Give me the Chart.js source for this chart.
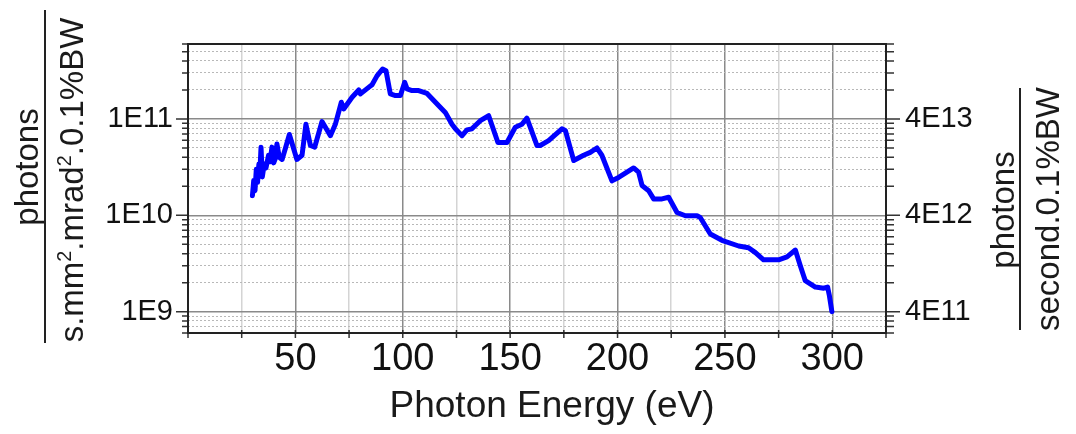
<!DOCTYPE html>
<html>
<head>
<meta charset="utf-8">
<script src="https://cdn.jsdelivr.net/npm/chart.js@4.4.1/dist/chart.umd.min.js"></script>
<style>
  body { margin: 0; background: #fff; }
  #wrap { position: relative; width: 1076px; height: 434px; font-family: 'Liberation Sans', Arial, sans-serif; color: #1a1a1a; }
  #wrap canvas { position: absolute; left: 0; top: 0; }
  .rot { position: absolute; transform: translate(-50%, -50%) rotate(-90deg); white-space: nowrap; font-size: 33px; line-height: 1; }
  .rot sup { font-size: 0.6em; vertical-align: 0.6em; line-height: 0; }
  .bar { position: absolute; width: 2px; background: #222; }
  #xtitle { position: absolute; left: 552px; top: 386px; transform: translateX(-50%); font-size: 37px; line-height: 1; white-space: nowrap; }
</style>
</head>
<body>
<div id="wrap">
  <canvas id="chart" width="1076" height="434"></canvas>
  <span class="rot" style="left:26px; top:167px;">photons</span>
  <div class="bar" style="left:44px; top:10px; height:333px;"></div>
  <span class="rot" style="left:71px; top:180px;">s.mm<sup>2</sup>.mrad<sup>2</sup>.0.1%BW</span>
  <span class="rot" style="left:1002px; top:210px;">photons</span>
  <div class="bar" style="left:1019px; top:88px; height:242px;"></div>
  <span class="rot" style="left:1047px; top:209px;">second.0.1%BW</span>
  <span id="xtitle">Photon Energy (eV)</span>
</div>
<script>
// photon energy (eV) and brightness
const energy = [30.0, 30.6, 31.2, 31.8, 32.4, 33.0, 33.4, 34.0, 34.6, 35.5, 36.3, 37.5, 38.2, 39.1, 39.9, 40.7, 41.4, 42.5, 43.8, 45.3, 47.2,
  50.7, 53.1, 54.9, 57.0, 59.0, 62.4, 66.3, 68.6, 71.4, 72.5, 76.4, 79.5, 80.3, 84.1, 85.7, 88.0, 90.6, 92.2, 94.2, 96.6, 98.9,
  100.9, 102.0, 104.3, 107.4, 111.3, 115.2, 119.8, 122.9, 124.5, 127.6, 129.9, 132.2, 136.1, 140.0, 144.3, 148.5, 152.4, 155.5,
  157.8, 162.5, 164.0, 167.9, 174.1, 175.7, 179.6, 184.2, 187.3, 190.4, 192.7, 197.4, 200.5, 207.5, 209.8, 211.4, 214.5, 216.8,
  220.7, 223.8, 227.7, 231.6, 237.0, 238.5, 243.2, 248.6, 256.4, 261.0, 264.2, 268.0, 275.0, 278.9, 282.8, 285.1, 286.6, 287.4,
  292.1, 296.0, 297.8, 298.6, 299.8];
const brightness = [1.6e10, 2.3e10, 1.8e10, 3.0e10, 2.2e10, 3.4e10, 2.6e10, 5.1e10, 2.5e10, 3.4e10, 3.1e10, 4.2e10, 3.6e10, 5.1e10, 3.5e10, 3.9e10, 5.5e10, 4.0e10, 3.8e10, 4.9e10, 6.9e10,
  3.8e10, 4.2e10, 8.8e10, 5.3e10, 5.1e10, 9.4e10, 6.7e10, 8.8e10, 1.49e11, 1.27e11, 1.68e11, 2.0e11, 1.82e11, 2.13e11, 2.27e11, 2.8e11, 3.3e11, 3.17e11, 1.82e11, 1.75e11, 1.75e11,
  2.4e11, 2.05e11, 1.97e11, 1.97e11, 1.84e11, 1.49e11, 1.17e11, 8.8e10, 7.9e10, 6.7e10, 7.7e10, 7.9e10, 9.6e10, 1.08e11, 5.7e10, 5.7e10, 8.2e10, 8.8e10,
  1.02e11, 5.3e10, 5.3e10, 5.95e10, 7.9e10, 7.6e10, 3.7e10, 4.2e10, 4.5e10, 5.0e10, 4.2e10, 2.28e10, 2.47e10, 3.1e10, 2.8e10, 2.04e10, 1.8e10, 1.48e10,
  1.48e10, 1.54e10, 1.07e10, 9.9e9, 9.9e9, 9.5e9, 6.4e9, 5.5e9, 4.8e9, 4.6e9, 4.1e9, 3.45e9, 3.45e9, 3.7e9, 4.36e9, 3.0e9, 2.37e9, 2.1e9,
  1.8e9, 1.75e9, 1.8e9, 1.48e9, 1.0e9];

const xMin = 0, xMax = 325, xStep = 25, xLabelStep = 50;
const yMin = 6e8, yMax = 6e11;
const rightFactor = 400;  // photons/second scale relative to brightness

// log ticks: 1..9 per decade, clipped to the axis range
function logTicks() {
  const out = [];
  for (let e = 8; e <= 11; e++) {
    for (let m = 1; m <= 9; m++) {
      const v = m * Math.pow(10, e);
      if (v >= yMin * 0.999 && v <= yMax * 1.001) out.push({ value: v });
    }
  }
  return out;
}
const isDecade = v => Math.abs(Math.log10(v) - Math.round(Math.log10(v))) < 1e-6;
const expLabel = v => {
  const l = Math.log10(v);
  const e = Math.floor(l + 1e-9);
  const m = Math.round(v / Math.pow(10, e));
  return m + 'E' + e;
};

const tickFont = { family: "'Liberation Sans', Arial, sans-serif", size: 29 };

// outward tick marks of two lengths and the frame round the plot
const axisMarks = {
  id: 'axisMarks',
  afterDraw(chart) {
    const { ctx, chartArea: a, scales } = chart;
    ctx.save();
    ctx.strokeStyle = '#333';
    ctx.lineWidth = 1.5;
    ctx.beginPath();
    scales.y.ticks.forEach(t => {
      const py = scales.y.getPixelForValue(t.value);
      const major = isDecade(t.value);
      ctx.moveTo(a.left - (major ? 12 : 6), py); ctx.lineTo(a.left, py);
      ctx.moveTo(a.right, py); ctx.lineTo(a.right + (major ? 14 : 8), py);
    });
    scales.x.ticks.forEach(t => {
      const px = scales.x.getPixelForValue(t.value);
      ctx.moveTo(px, a.bottom - 3); ctx.lineTo(px, a.bottom + 5);
    });
    ctx.stroke();
    ctx.lineWidth = 2;
    ctx.strokeStyle = '#222';
    ctx.strokeRect(a.left, a.top, a.right - a.left, a.bottom - a.top);
    ctx.restore();
  }
};

new Chart(document.getElementById('chart'), {
  type: 'line',
  data: {
    datasets: [{
      data: energy.map((e, i) => ({ x: e, y: brightness[i] })),
      borderColor: '#0000ff',
      borderWidth: 5,
      pointRadius: 0,
      tension: 0,
      borderJoinStyle: 'round',
      borderCapStyle: 'round',
      yAxisID: 'y'
    }]
  },
  options: {
    responsive: false,
    animation: false,
    devicePixelRatio: 1,
    layout: { padding: { top: 44, left: 0, right: 0, bottom: 0 } },
    plugins: { legend: { display: false }, tooltip: { enabled: false } },
    scales: {
      x: {
        type: 'linear',
        min: xMin, max: xMax,
        afterFit: s => { s.height = 101; },
        ticks: {
          stepSize: xStep, autoSkip: false, maxRotation: 0, padding: 4,
          color: '#111',
          font: { family: "'Liberation Sans', Arial, sans-serif", size: 38 },
          callback: v => (v > 0 && v % xLabelStep === 0 ? String(v) : '')
        },
        grid: {
          drawTicks: false,
          lineWidth: 1.5,
          color: c => (c.tick && c.tick.value % xLabelStep === 0 ? '#8a8a8a' : '#d4d4d4')
        },
        border: { display: false }
      },
      y: {
        type: 'logarithmic',
        position: 'left',
        min: yMin, max: yMax,
        afterBuildTicks: s => { s.ticks = logTicks(); },
        afterFit: s => { s.width = 188; },
        ticks: {
          autoSkip: false, padding: 15, color: '#111', font: tickFont,
          callback: v => (isDecade(v) ? expLabel(v) : '')
        },
        grid: {
          drawTicks: false,
          lineWidth: 1.5,
          color: c => (c.tick && isDecade(c.tick.value) ? '#8a8a8a' : 'rgba(0,0,0,0)')
        },
        border: { display: false }
      },
      y2: {
        type: 'logarithmic',
        position: 'right',
        min: yMin, max: yMax,
        afterBuildTicks: s => { s.ticks = logTicks(); },
        afterFit: s => { s.width = 190; },
        ticks: {
          autoSkip: false, padding: 19, color: '#111', font: tickFont,
          callback: v => (isDecade(v) ? expLabel(v * rightFactor) : '')
        },
        grid: {
          drawTicks: false,
          lineWidth: 1,
          color: c => (c.tick && !isDecade(c.tick.value) ? '#b8b8b8' : 'rgba(0,0,0,0)')
        },
        border: { display: false, dash: [2, 2] }
      }
    }
  },
  plugins: [axisMarks]
});
</script>
</body>
</html>
